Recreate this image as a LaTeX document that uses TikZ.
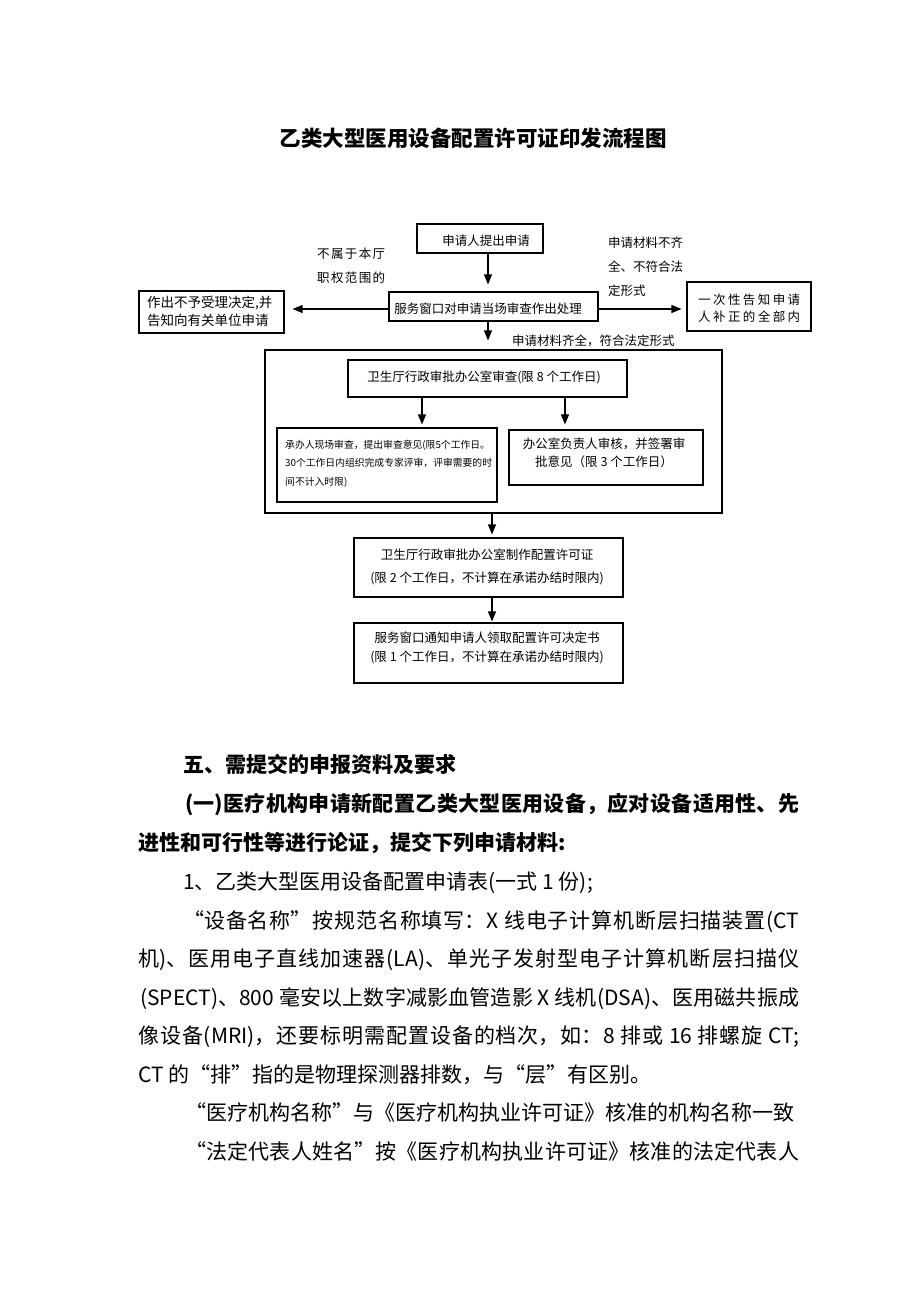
\documentclass[tikz,border=0pt]{standalone}
\usepackage{fontspec}
\setmainfont{Noto Sans CJK SC}
\usetikzlibrary{arrows.meta}
\XeTeXlinebreaklocale "zh"
\XeTeXlinebreakskip = 0pt plus 3pt

\tikzset{
  box/.style = {draw, line width=1.1pt, inner sep=0pt},
  txt/.style = {inner sep=0pt, align=center, font=\fontsize{12.5}{19}\selectfont},
  spread/.style = {txt, anchor=west, text width=#1, align=justify,
                   execute at begin node={\parfillskip=0pt\relax}},
  arr/.style = {-{Triangle[length=10pt,width=8pt]}, line width=1.1pt},
  body/.style = {anchor=base west, inner sep=0pt, font=\fontsize{21}{38}\selectfont},
  full/.style = {body, text width=#1, align=justify,
                 execute at begin node={\parfillskip=0pt\relax}},
}

\begin{document}
\begin{tikzpicture}[x=1pt, y=-1pt]
    \useasboundingbox (0,0) rectangle (920,1302);
    \node[inner sep=0pt, font=\fontsize{21.5}{25}\selectfont\bfseries] (title) at (473,138)
        {乙类大型医用设备配置许可证印发流程图};

    \node[box, minimum width=126pt, minimum height=29pt] (apply) at (480,238.5) {};
    \node[box, minimum width=209pt, minimum height=29pt] (review) at (493.5,306.5) {};
    \node[box, minimum width=145pt, minimum height=42pt] (reject) at (211.5,312) {};
    \node[box, minimum width=124pt, minimum height=49pt] (notify) at (749,306.5) {};
    \node[box, minimum width=457pt, minimum height=163pt] (office) at (493.5,431.5) {};
    \node[box, minimum width=279pt, minimum height=37pt] (examine) at (487.5,378.5) {};
    \node[box, minimum width=220pt, minimum height=74pt] (site) at (387,465) {};
    \node[box, minimum width=194pt, minimum height=55pt] (head) at (606,457.5) {};
    \node[box, minimum width=269pt, minimum height=59pt] (make) at (488.5,567.5) {};
    \node[box, minimum width=269pt, minimum height=60pt] (issue) at (488.5,653) {};

    \node[txt] (applyt) at (486,241) {申请人提出申请};
    \node[txt] (reviewt) at (488,309) {服务窗口对申请当场审查作出处理};
    \node[txt, align=left, anchor=west, font=\fontsize{13.5}{18}\selectfont] (rejectt) at (147,311)
        {作出不予受理决定,并\\告知向有关单位申请};
    \node[spread=102pt, font=\fontsize{12.5}{17}\selectfont] (notifyt) at (698,308.5)
        {一次性告知申请\par 人补正的全部内};
    \node[txt] (examinet) at (484,377) {卫生厅行政审批办公室审查(限 8 个工作日)};
    \node[txt, align=left, anchor=west, font=\fontsize{9.8}{18.5}\selectfont] (sitet) at (285,463.5)
        {承办人现场审查，提出审查意见(限5个工作日。\\30个工作日内组织完成专家评审，评审需要的时\\间不计入时限)};
    \node[txt, font=\fontsize{12.5}{18}\selectfont] (headt) at (604,453)
        {办公室负责人审核，并签署审\\批意见（限 3 个工作日）};
    \node[txt] (maket) at (487,566.5) {卫生厅行政审批办公室制作配置许可证\\[4pt](限 2 个工作日，不计算在承诺办结时限内)};
    \node[txt] (issuet) at (487,647.5) {服务窗口通知申请人领取配置许可决定书\\(限 1 个工作日，不计算在承诺办结时限内)};

    \node[spread=68pt, font=\fontsize{12.5}{24}\selectfont] (outscope) at (317,266)
        {不属于本厅\par 职权范围的};
    \node[txt, align=left, anchor=west, font=\fontsize{12.5}{24}\selectfont] (incomplete) at (608,267)
        {申请材料不齐\\全、不符合法\\定形式};
    \node[txt, anchor=west] (complete) at (512,341) {申请材料齐全，符合法定形式};

    \draw[arr, shorten >=7pt] ([xshift=8pt]apply.south) -- ([xshift=8pt]apply.south |- review.north);
    \draw[arr, shorten >=8pt] ([yshift=-2.5pt]review.west) -- ([yshift=-2.5pt]review.west -| reject.east);
    \draw[arr, shorten >=5pt] ([yshift=-2.5pt]review.east) -- ([yshift=-2.5pt]review.east -| notify.west);
    \draw[arr, shorten >=9pt] ([xshift=-5.5pt]review.south) -- ([xshift=-5.5pt]review.south |- office.north);
    \draw[arr, shorten >=3pt] ([xshift=-65.5pt]examine.south) -- ([xshift=-65.5pt]examine.south |- site.north);
    \draw[arr, shorten >=5pt] ([xshift=77.5pt]examine.south) -- ([xshift=77.5pt]examine.south |- head.north);
    \draw[arr, shorten >=3pt] ([xshift=-1.5pt]office.south) -- ([xshift=-1.5pt]office.south |- make.north);
    \draw[arr, shorten >=1pt] ([xshift=3.5pt]make.south) -- ([xshift=3.5pt]make.south |- issue.north);

    \node[body, font=\fontsize{21}{38}\selectfont\bfseries] (sec) at (183,772) {五、需提交的申报资料及要求};
    \node[full=614pt, font=\fontsize{21}{38}\selectfont\bfseries] (item) at (185,811)
        {(一)医疗机构申请新配置乙类大型医用设备，应对设备适用性、先};
    \node[body, font=\fontsize{21}{38}\selectfont\bfseries] (itemb) at (138,850) {进性和可行性等进行论证，提交下列申请材料:};
    \node[body] (lineA) at (183,889) {1、乙类大型医用设备配置申请表(一式 1 份);};
    \node[full=616pt] (lineB) at (183,928) {“设备名称”按规范名称填写：X 线电子计算机断层扫描装置(CT};
    \node[full=661pt] (lineC) at (138,966) {机)、医用电子直线加速器(LA)、单光子发射型电子计算机断层扫描仪};
    \node[full=659pt] (lineD) at (140,1005) {(SPECT)、800 毫安以上数字减影血管造影 X 线机(DSA)、医用磁共振成};
    \node[full=661pt] (lineE) at (138,1043) {像设备(MRI)，还要标明需配置设备的档次，如：8 排或 16 排螺旋 CT;};
    \node[body] (lineF) at (138,1082) {CT 的“排”指的是物理探测器排数，与“层”有区别。};
    \node[body] (lineG) at (185,1120) {“医疗机构名称”与《医疗机构执业许可证》核准的机构名称一致};
    \node[full=614pt] (lineH) at (185,1159) {“法定代表人姓名”按《医疗机构执业许可证》核准的法定代表人};
\end{tikzpicture}
\end{document}
